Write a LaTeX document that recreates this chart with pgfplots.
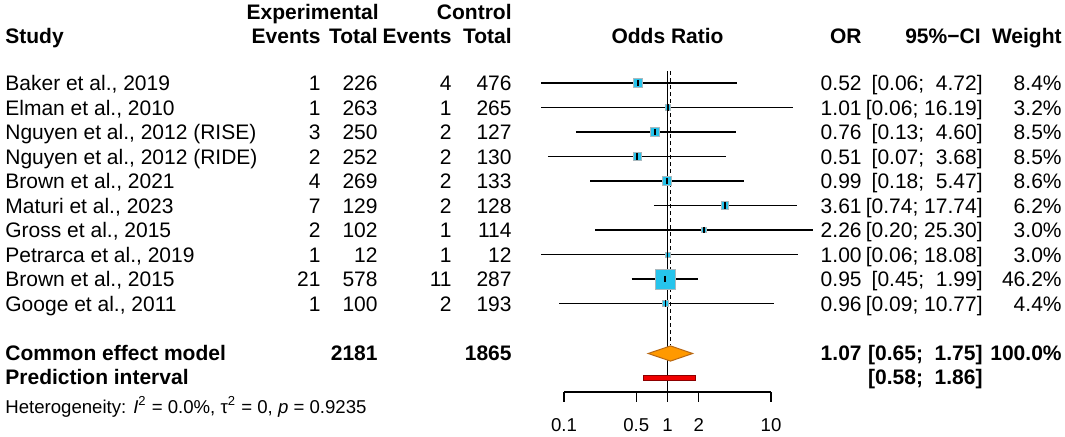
\documentclass[border=0pt]{standalone}
\usepackage{fontspec}
\setmainfont{Liberation Sans}
\usepackage{pgfplots}
\usepackage{pgfplotstable}
\pgfplotsset{compat=1.18}

\definecolor{sqfill}{RGB}{38,196,236}
\definecolor{sqdraw}{RGB}{170,185,190}
\definecolor{dia}{RGB}{255,153,0}
\definecolor{diadraw}{RGB}{185,105,20}
\definecolor{pred}{RGB}{240,0,0}
\definecolor{preddraw}{RGB}{140,0,0}

% k = row, or = odds ratio, lo/hi = 95% CI, w = weight (%), ms = half side of box (pt)
\pgfplotstableread{
k  or   lo   hi    w    ms
1  0.52 0.06 4.72  8.4  2.13
2  1.01 0.06 16.19 3.2  1.32
3  0.76 0.13 4.60  8.5  2.14
4  0.51 0.07 3.68  8.5  2.14
5  0.99 0.18 5.47  8.6  2.16
6  3.61 0.74 17.74 6.2  1.83
7  2.26 0.20 25.30 3.0  1.27
8  1.00 0.06 18.08 3.0  1.27
9  0.95 0.45 1.99  46.2 5.00
10 0.96 0.09 10.77 4.4  1.54
}\studies

% one text row of the table, coordinates in pixels
\newcommand\row[9]{%
  \pgfmathsetmacro\yb{90.5+24.5*(#1-1)}%
  \node[anchor=base west] at (5,\yb) {#2};
  \node[anchor=base east] at (321,\yb) {#3};
  \node[anchor=base east] at (378,\yb) {#4};
  \node[anchor=base east] at (452,\yb) {#5};
  \node[anchor=base east] at (512,\yb) {#6};
  \node[anchor=base east] at (862,\yb) {#7};
  \node[anchor=base east] at (983,\yb) {#8};
  \node[anchor=base east] at (1062,\yb) {#9};
}

\begin{document}
\fontsize{10.5}{12}\selectfont
\begin{tikzpicture}
\path (0,0) rectangle (532.5pt,218pt);
\begin{axis}[
  at={(0,0)}, anchor=south west,
  scale only axis, width=532.5pt, height=218pt,
  xmode=log, xmin=3.555e-7, xmax=6928,
  y dir=reverse, ymin=-2.3878, ymax=15.408,
  hide axis, clip=false,
  ci/.style={black, line width=0.75pt},
]
% reference lines
\draw[line width=0.7pt] (axis cs:1,0.51) -- (axis cs:1,13.612);
\draw[line width=0.75pt, dash pattern=on 2pt off 1.5pt] (axis cs:1.07,0.51) -- (axis cs:1.07,11.69);

% boxes
\addplot[scatter, only marks, mark=square*,
  scatter/use mapped color={draw=sqdraw, fill=sqfill},
  visualization depends on={\thisrow{ms} \as \msz},
  scatter/@pre marker code/.append style={/tikz/mark size=\msz, /tikz/line width=0.5pt}]
  table[x=or, y=k] {\studies};

% confidence intervals
\addplot[ci] coordinates {(0.06,1) (4.72,1)};
\addplot[ci] coordinates {(0.06,2) (16.19,2)};
\addplot[ci] coordinates {(0.13,3) (4.60,3)};
\addplot[ci] coordinates {(0.07,4) (3.68,4)};
\addplot[ci] coordinates {(0.18,5) (5.47,5)};
\addplot[ci] coordinates {(0.74,6) (17.74,6)};
\addplot[ci] coordinates {(0.20,7) (25.30,7)};
\addplot[ci] coordinates {(0.06,8) (18.08,8)};
\addplot[ci] coordinates {(0.45,9) (1.99,9)};
\addplot[ci] coordinates {(0.09,10) (10.77,10)};

% point estimates
\addplot[only marks, mark=|, mark size=1.6pt, mark options={line width=0.8pt}]
  table[x=or, y=k] {\studies};

% common effect diamond and prediction interval
\addplot[fill=dia, draw=diadraw, line width=0.5pt]
  coordinates {(0.65,12.04) (1.07,11.73) (1.75,12.04) (1.07,12.35)} -- cycle;
\addplot[fill=pred, draw=preddraw, line width=0.4pt]
  coordinates {(0.58,12.95) (1.86,12.95) (1.86,13.13) (0.58,13.13)} -- cycle;

% x axis
\addplot[black, line width=0.75pt] coordinates {(0.1,13.612) (10,13.612)};
\foreach \t in {0.1,0.5,1,2,10} {
  \edef\tmp{\noexpand\draw[line width=0.75pt] (axis cs:\t,13.612) -- (axis cs:\t,14.02);}\tmp
}
\end{axis}

\begin{scope}[x=0.5pt, y=-0.5pt, yshift=218pt, every node/.style={inner sep=0pt}]
% headers
\begin{scope}[font=\bfseries]
\node[anchor=base east] at (379,19.5) {Experimental};
\node[anchor=base east] at (512,19.5) {Control};
\node[anchor=base west] at (5,43.5) {Study};
\node[anchor=base east] at (321,43.5) {Events};
\node[anchor=base east] at (378,43.5) {Total};
\node[anchor=base east] at (452,43.5) {Events};
\node[anchor=base east] at (512,43.5) {Total};
\node[anchor=base] at (667.5,43.5) {Odds Ratio};
\node[anchor=base east] at (862,43.5) {OR};
\node[anchor=base east] at (981,43.5) {95\%−CI};
\node[anchor=base east] at (1062,43.5) {Weight};
\end{scope}

\row{1}{Baker et al., 2019}{1}{226}{4}{476}{0.52}{[0.06;\ \ 4.72]}{8.4\%}
\row{2}{Elman et al., 2010}{1}{263}{1}{265}{1.01}{[0.06; 16.19]}{3.2\%}
\row{3}{Nguyen et al., 2012 (RISE)}{3}{250}{2}{127}{0.76}{[0.13;\ \ 4.60]}{8.5\%}
\row{4}{Nguyen et al., 2012 (RIDE)}{2}{252}{2}{130}{0.51}{[0.07;\ \ 3.68]}{8.5\%}
\row{5}{Brown et al., 2021}{4}{269}{2}{133}{0.99}{[0.18;\ \ 5.47]}{8.6\%}
\row{6}{Maturi et al., 2023}{7}{129}{2}{128}{3.61}{[0.74; 17.74]}{6.2\%}
\row{7}{Gross et al., 2015}{2}{102}{1}{114}{2.26}{[0.20; 25.30]}{3.0\%}
\row{8}{Petrarca et al., 2019}{1}{12}{1}{12}{1.00}{[0.06; 18.08]}{3.0\%}
\row{9}{Brown et al., 2015}{21}{578}{11}{287}{0.95}{[0.45;\ \ 1.99]}{46.2\%}
\row{10}{Googe et al., 2011}{1}{100}{2}{193}{0.96}{[0.09; 10.77]}{4.4\%}

\begin{scope}[font=\bfseries]
\row{12}{Common effect model}{}{2181}{}{1865}{1.07}{[0.65;\ \ 1.75]}{100.0\%}
\row{13}{Prediction interval}{}{}{}{}{}{[0.58;\ \ 1.86]}{}
\end{scope}

\begin{scope}[font=\fontsize{9.3}{11}\selectfont]
\node[anchor=base west] at (5,413.6) {Heterogeneity: \textit{I}\textsuperscript{2} = 0.0\%, τ\textsuperscript{2} = 0, \textit{p} = 0.9235};
\node[anchor=base] at (564,431.6) {0.1};
\node[anchor=base] at (636.3,431.6) {0.5};
\node[anchor=base] at (667.5,431.6) {1};
\node[anchor=base] at (698.7,431.6) {2};
\node[anchor=base] at (771,431.6) {10};
\end{scope}
\end{scope}
\end{tikzpicture}
\end{document}
